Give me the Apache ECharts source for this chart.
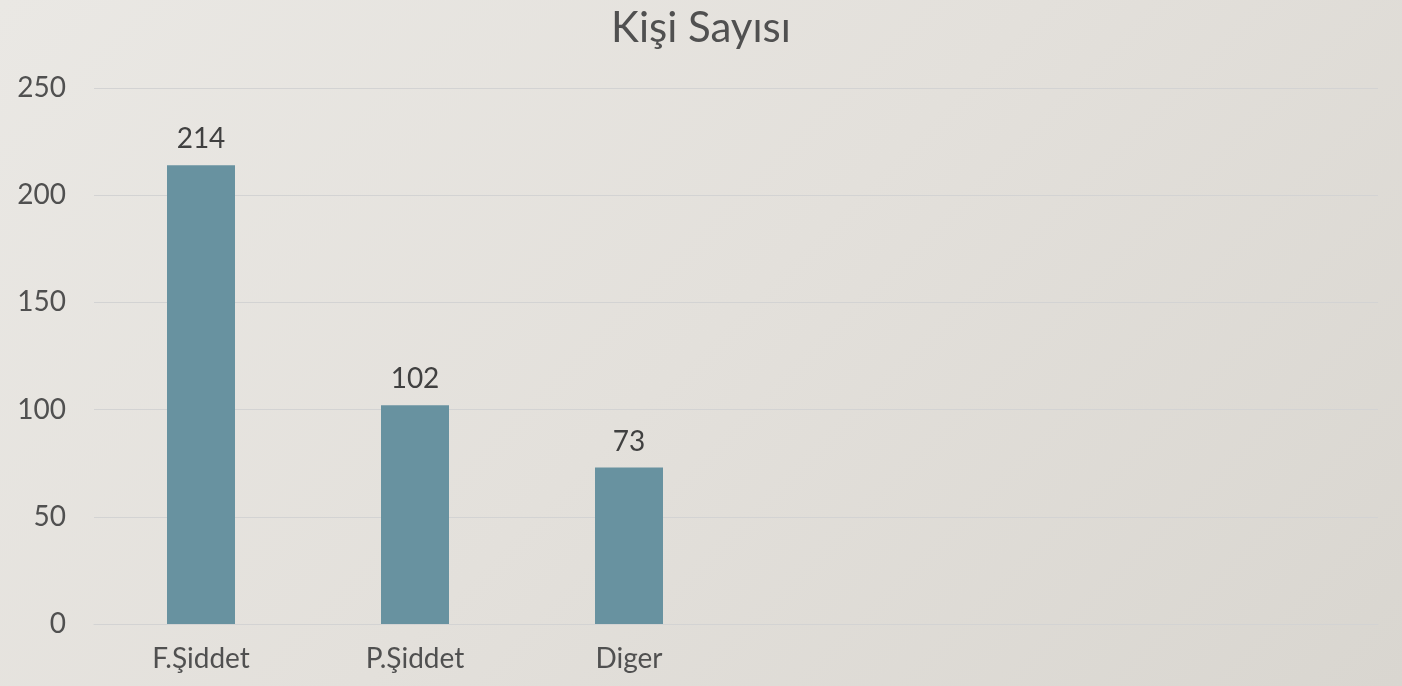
<!DOCTYPE html>
<html>
<head>
<meta charset="utf-8">
<script src="https://cdn.jsdelivr.net/npm/echarts@6/dist/echarts.min.js"></script>
<style>
  html, body { margin: 0; padding: 0; }
  #chart {
    width: 1402px;
    height: 686px;
    background: linear-gradient(135deg, #eae8e4 0%, #e3e0db 50%, #d9d6d0 100%);
  }
</style>
</head>
<body>
<div id="chart"></div>
<script>
// kategoriler (son üçü boş)
const categories = ['F.Şiddet', 'P.Şiddet', 'Diger', '', '', ''];
const values = [214, 102, 73, '-', '-', '-'];
const yTicks = [0, 50, 100, 150, 200, 250];

const font = 'Lato, "Noto Sans", sans-serif';

let chart = echarts.init(document.getElementById('chart'));
chart.setOption({
  backgroundColor: 'transparent',
  title: {
    text: 'Kişi Sayısı',
    left: 'center',
    top: 2,
    textStyle: { color: '#505050', fontSize: 42, fontWeight: 'normal', fontFamily: font }
  },
  grid: { left: 94, right: 24, top: 88, bottom: 62, containLabel: false },
  xAxis: {
    type: 'category',
    data: categories,
    axisLine: { show: true, lineStyle: { color: '#d3d3d3', width: 1 } },
    axisTick: { show: false },
    axisLabel: { color: '#505050', fontSize: 28, fontFamily: font, margin: 21 }
  },
  yAxis: {
    type: 'value',
    min: yTicks[0],
    max: yTicks[yTicks.length - 1],
    interval: 50,
    axisLine: { show: false },
    axisTick: { show: false },
    axisLabel: { color: '#505050', fontSize: 28, fontFamily: font, margin: 28 },
    splitLine: { lineStyle: { color: '#d3d3d3', width: 1 } }
  },
  series: [{
    type: 'bar',
    data: values,
    barWidth: 68,
    itemStyle: { color: '#6892a0' },
    label: {
      show: true,
      position: 'top',
      distance: 12,
      color: '#404040',
      fontSize: 28,
      fontFamily: font
    }
  }]
});
</script>
</body>
</html>
